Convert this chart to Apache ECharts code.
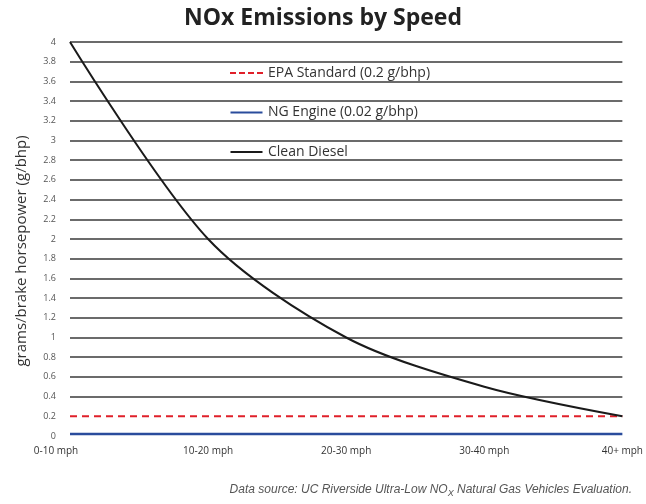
<!DOCTYPE html>
<html>
<head>
<meta charset="utf-8">
<script src="https://cdn.jsdelivr.net/npm/echarts@6/dist/echarts.min.js"></script>
<style>html,body{margin:0;padding:0;background:#fff}#c{width:646px;height:504px}</style>
</head>
<body>
<div id="c"></div>
<script>
const categories = ['0-10 mph', '10-20 mph', '20-30 mph', '30-40 mph', '40+ mph'];
const cleanDiesel = [4.0, 2.0, 1.0, 0.5, 0.2];
const epaStandard = [0.2, 0.2, 0.2, 0.2, 0.2];
const ngEngine = [0.02, 0.02, 0.02, 0.02, 0.02];
const seriesNames = ['EPA Standard (0.2 g/bhp)', 'NG Engine (0.02 g/bhp)', 'Clean Diesel'];

// grid line colours, bottom to top (0 and 0.2 are covered by the series lines)
const gridColors = ['transparent', 'transparent'];
for (let i = 2; i <= 20; i++) gridColors.push('#3a3a3a');

const solidIcon = 'path://M0,0 L32,0 L32,2 L0,2 Z';
const dashIcon = 'path://M0,0 L6,0 L6,2 L0,2 Z M9,0 L15,0 L15,2 L9,2 Z M18,0 L24,0 L24,2 L18,2 Z M27,0 L33,0 L33,2 L27,2 Z';

const chart = echarts.init(document.getElementById('c'));
chart.setOption({
  animation: false,
  backgroundColor: '#fff',
  title: {
    text: 'NOx Emissions by Speed',
    left: 'center',
    top: 2,
    textStyle: { fontFamily: 'Open Sans', fontWeight: 'bold', fontSize: 23, color: '#222' }
  },
  legend: {
    orient: 'vertical',
    left: 225,
    top: 61,
    itemGap: 25.5,
    itemWidth: 33,
    itemHeight: 2,
    data: [
      { name: seriesNames[0], icon: dashIcon },
      { name: seriesNames[1], icon: solidIcon },
      { name: seriesNames[2], icon: solidIcon }
    ],
    textStyle: { fontFamily: 'Open Sans', fontSize: 14, color: '#333' }
  },
  grid: { left: 70, right: 19, top: 42, bottom: 68 },
  xAxis: {
    type: 'category',
    data: categories,
    boundaryGap: false,
    axisLine: { show: false },
    axisTick: { show: false },
    axisLabel: {
      fontFamily: 'Open Sans', fontSize: 10, color: '#333', margin: 10,
      formatter: (v, i) => i === 0 ? '{a|' + v + '}' : v,
      rich: { a: { fontFamily: 'Open Sans', fontSize: 10, color: '#333', padding: [0, 28, 0, 0] } }
    }
  },
  yAxis: {
    type: 'value',
    min: 0,
    max: 4,
    interval: 0.2,
    axisLine: { show: false },
    axisTick: { show: false },
    axisLabel: { fontFamily: 'Open Sans', fontSize: 9, color: '#555', margin: 14,
      formatter: v => String(Math.round(v * 10) / 10) },
    splitLine: { lineStyle: { color: gridColors, width: 1.5 } }
  },
  series: [
    {
      name: seriesNames[0], type: 'line', data: epaStandard, symbol: 'none',
      lineStyle: { color: '#e0202a', width: 2, type: [7, 5] },
      itemStyle: { color: '#e0202a' }, z: 3
    },
    {
      name: seriesNames[1], type: 'line', data: ngEngine, symbol: 'none',
      lineStyle: { color: '#2a4c9c', width: 2.5 },
      itemStyle: { color: '#2a4c9c' }, z: 3
    },
    {
      name: seriesNames[2], type: 'line', data: cleanDiesel, symbol: 'none', smooth: 0.3,
      lineStyle: { color: '#1a1a1a', width: 2 },
      itemStyle: { color: '#1a1a1a' }, z: 4
    }
  ],
  graphic: [
    {
      type: 'text',
      x: 22,
      y: 251,
      rotation: Math.PI / 2,
      style: {
        text: 'grams/brake horsepower (g/bhp)',
        fontFamily: 'Open Sans', fontSize: 15, fill: '#333',
        align: 'center', verticalAlign: 'middle'
      }
    },
    {
      type: 'text',
      right: 14,
      top: 484,
      style: {
        text: '{t|Data source: UC Riverside Ultra-Low NO}{s|X}{t| Natural Gas Vehicles Evaluation.}',
        rich: {
          t: { fontFamily: 'Liberation Sans', fontStyle: 'italic', fontSize: 12, fill: '#555' },
          s: { fontFamily: 'Liberation Sans', fontStyle: 'italic', fontSize: 9, fill: '#555', verticalAlign: 'bottom', padding: [6, 0, 0, 0] }
        }
      }
    }
  ]
});
</script>
</body>
</html>
